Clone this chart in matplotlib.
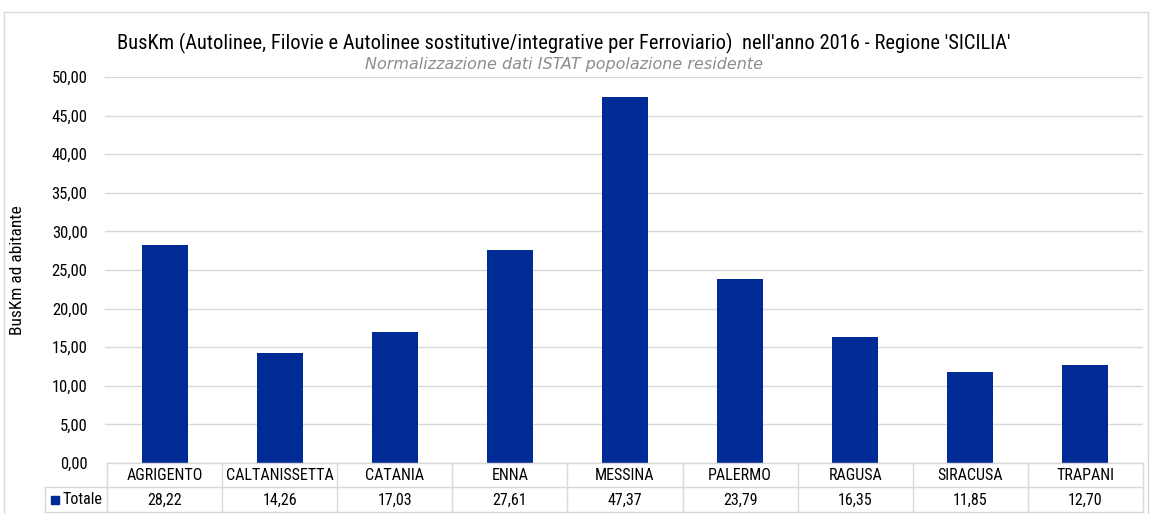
import numpy as np
import matplotlib
matplotlib.use('Agg')
from matplotlib import pyplot as plt
from matplotlib.patches import Rectangle
from matplotlib.lines import Line2D

province = ['AGRIGENTO', 'CALTANISSETTA', 'CATANIA', 'ENNA', 'MESSINA',
            'PALERMO', 'RAGUSA', 'SIRACUSA', 'TRAPANI']
totale = [28.22, 14.26, 17.03, 27.61, 47.37, 23.79, 16.35, 11.85, 12.70]
y_ticks = [0, 5, 10, 15, 20, 25, 30, 35, 40, 45, 50]

title = "BusKm (Autolinee, Filovie e Autolinee sostitutive/integrative per Ferroviario)  nell'anno 2016 - Regione 'SICILIA'"
subtitle = "Normalizzazione dati ISTAT popolazione residente"
ylabel = "BusKm ad abitante"
serie = "Totale"

bar_color = '#002a96'
grid_color = '#d9d9d9'
narrow = ['Roboto Condensed', 'DejaVu Sans']


def virgola(v):
    # decimal comma, italian style
    return ('%.2f' % v).replace('.', ',')


W, H = 1151, 514
fig = plt.figure(figsize=(W / 100, H / 100), dpi=100)


def fx(px):
    return px / W


def fy(py):
    return 1 - py / H


def hline(x0, x1, y, color='#d9d9d9'):
    fig.lines.append(Line2D([fx(x0), fx(x1)], [fy(y)] * 2, transform=fig.transFigure, color=color, lw=1))


def vline(x, y0, y1, color='#d9d9d9'):
    fig.lines.append(Line2D([fx(x)] * 2, [fy(y0), fy(y1)], transform=fig.transFigure, color=color, lw=1))


# chart border
hline(4, 1148, 12)
vline(4, 12, 514)
vline(1148, 12, 514)

left, right, top, bottom = 107, 1143, 77, 463
ax = fig.add_axes([fx(left), fy(bottom), fx(right) - fx(left), fy(top) - fy(bottom)])

x = np.arange(len(province))
ax.bar(x, totale, width=0.40, color=bar_color, zorder=3)
ax.set_xlim(-0.5, len(province) - 0.5)
ax.set_ylim(0, 50)
ax.set_yticks(y_ticks)
ax.set_yticklabels([virgola(v) for v in y_ticks], fontfamily=narrow, fontsize=12)
ax.tick_params(axis='y', length=0, pad=14)
ax.set_xticks([])
for s in ax.spines.values():
    s.set_visible(False)
ax.grid(axis='y', color=grid_color, lw=1, zorder=0)
# gridlines start a bit left of the table
for v in y_ticks[1:]:
    hline(left - 2, left, 463 - v * (463 - 77) / 50, grid_color)

fig.text(fx(18), fy(270), ylabel, rotation=90, ha='center', va='center', fontfamily=narrow, fontsize=12.5)

# titles
fig.text(fx(564), fy(43), title, ha='center', va='center', fontfamily=narrow, fontsize=14.8)
fig.text(fx(564), fy(65), subtitle, ha='center', va='center', fontfamily='DejaVu Sans',
         style='italic', fontsize=11.5, color='#8c8c8c')

# data table under the axis
row1_top, row2_top, row_bot = 463, 487, 512
hline(left, right, row1_top)
hline(45, right, row2_top)
hline(45, right, row_bot)
vline(45, row2_top, row_bot)
colw = (right - left) / len(province)
for i in range(len(province) + 1):
    vline(left + i * colw, row1_top, row_bot)

for i, (p, v) in enumerate(zip(province, totale)):
    xc = left + (i + 0.5) * colw
    fig.text(fx(xc), fy((row1_top + row2_top) / 2 + 1), p, ha='center', va='center',
             fontfamily=narrow, fontsize=11.5)
    fig.text(fx(xc), fy((row2_top + row_bot) / 2 + 1), virgola(v), ha='center', va='center',
             fontfamily=narrow, fontsize=11.5)

fig.patches.append(Rectangle((fx(51), fy(504)), 8 / W, 8 / H, transform=fig.transFigure, color=bar_color))
fig.text(fx(62), fy(500), serie, ha='left', va='center', fontfamily=narrow, fontsize=11.5)

fig.savefig('out.png', dpi=100)
